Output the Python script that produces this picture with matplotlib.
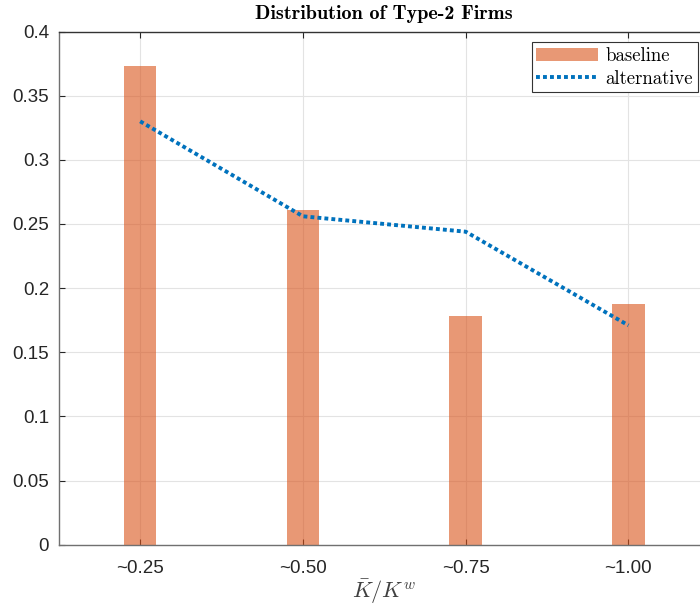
import matplotlib
matplotlib.use('Agg')
from matplotlib import pyplot as plt

categories = ['~0.25', '~0.50', '~0.75', '~1.00']
baseline = [0.373, 0.261, 0.178, 0.188]
alternative = [0.330, 0.256, 0.244, 0.171]

plt.rcParams['font.family'] = ['Liberation Sans', 'DejaVu Sans']
plt.rcParams['mathtext.fontset'] = 'cm'

fig = plt.figure(figsize=(7, 6.06), dpi=100)
# right side of the axes runs past the edge, as in the original export
ax = fig.add_axes([0.084, 0.101, 0.93, 0.847])

x = list(range(1, len(categories) + 1))
b = ax.bar(x, baseline, width=0.2, color='#D95319', alpha=0.6, label='baseline', zorder=2)
l, = ax.plot(x, alternative, linestyle=(0, (1, 0.8)), color='#0072BD', linewidth=2.8,
             label='alternative', zorder=3)

ax.set_xlim(0.5, 4.5)
ax.set_ylim(0, 0.4)
ax.set_xticks(x)
ax.set_xticklabels(categories)
ax.set_yticks([0, 0.05, 0.1, 0.15, 0.2, 0.25, 0.3, 0.35, 0.4])
ax.set_yticklabels(['0', '0.05', '0.1', '0.15', '0.2', '0.25', '0.3', '0.35', '0.4'])
ax.tick_params(direction='in', length=4, labelsize=13.5, colors='#262626',
               top=True, pad=7)
ax.tick_params(axis='x', pad=11)
ax.grid(True, color='#e3e3e3', linewidth=0.8, zorder=0)
ax.set_axisbelow(True)
for s in ax.spines.values():
    s.set_color('#707070')
    s.set_linewidth(1.0)
ax.spines['top'].set_color('#333333')

ax.set_xlabel(r'$\bar{K}/K^w$', fontsize=16, color='#404040', labelpad=0)
ax.set_title('Distribution of Type-2 Firms', family='cmb10', fontsize=14.5, pad=9)

leg = ax.legend([b, l], ['baseline', 'alternative'], loc='upper right',
                bbox_to_anchor=(0.997, 0.93),
                bbox_transform=fig.transFigure, prop={'family': 'cmr10', 'size': 13.5},
                fancybox=False, edgecolor='#333333', framealpha=1,
                borderpad=0.25, handlelength=3.3, handletextpad=0.4,
                labelspacing=0.25, borderaxespad=0)
leg.get_frame().set_linewidth(0.8)

plt.savefig('out.png', dpi=100)
